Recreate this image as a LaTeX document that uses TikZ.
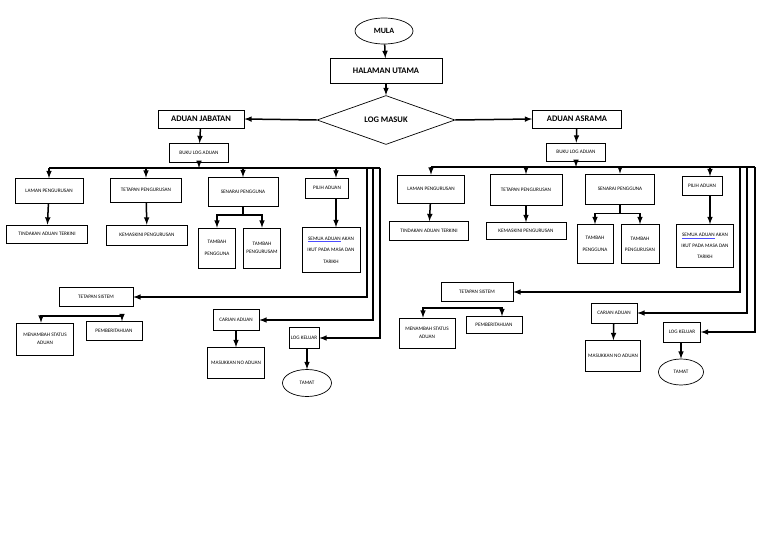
\documentclass[tikz,border=0pt]{standalone}
\usepackage{fontspec}
\setmainfont{Carlito}
\usepackage{tikz}
\usetikzlibrary{arrows}
\usetikzlibrary{shapes.geometric}

\begin{document}
\begin{tikzpicture}[x=1pt,y=-1pt,
    box/.style={draw,line width=0.7pt,inner sep=1pt,align=center,
      font=\fontsize{5.2}{8}\selectfont},
    headbox/.style={draw,line width=0.8pt,inner sep=1pt,
      font=\bfseries\fontsize{8.5}{9}\selectfont},
    oval/.style={draw,ellipse,line width=0.7pt,inner sep=0pt},
    arr/.style={-latex,line width=1.5pt},
    busline/.style={line width=1.5pt}]
  \useasboundingbox (0,0) rectangle (768,543);

  % top of the chart
  \node[oval,minimum width=58,minimum height=26,
    font=\bfseries\fontsize{8}{9}\selectfont] (mula) at (384,31) {MULA};
  \node[headbox,minimum width=112,minimum height=25] (halaman) at (386,71)
    {HALAMAN UTAMA};
  \node[draw,diamond,line width=0.7pt,inner sep=0pt,minimum width=138,
    minimum height=38,font=\bfseries\fontsize{8.5}{9}\selectfont] (login)
    at (386,120) {LOG MASUK};
  \node[headbox,minimum width=86,minimum height=18] (jabatan) at (201,119)
    {ADUAN JABATAN};
  \node[headbox,minimum width=89,minimum height=18] (asrama) at (577,119)
    {ADUAN ASRAMA};
  \node[box,minimum width=59,minimum height=19] (bukuJ) at (199,153)
    {BUKU LOG ADUAN};
  \node[box,minimum width=59,minimum height=18] (bukuA) at (576,152)
    {BUKU LOG ADUAN};

  \draw[arr] (mula) -- (halaman);
  \draw[arr] (halaman) -- (login);
  \draw[arr] (login.west) -- (jabatan.east);
  \draw[arr] (login.east) -- (asrama.west);
  \draw[arr] (jabatan) -- (bukuJ);
  \draw[arr] (asrama) -- (bukuA);

  % aduan jabatan
  \coordinate (busJ) at (199,168);
  \coordinate (endJa) at (367,168);
  \coordinate (endJb) at (373,168);
  \coordinate (endJc) at (380,168);
  \node[box,minimum width=68,minimum height=25] (lamanJ) at (49,191)
    {LAMAN PENGURUSAN};
  \node[box,minimum width=71,minimum height=24] (tetapanPJ) at (146,190)
    {TETAPAN PENGURUSAN};
  \node[box,minimum width=70,minimum height=29] (senaraiJ) at (243,192)
    {SENARAI PENGGUNA};
  \node[box,minimum width=43,minimum height=20] (pilihJ) at (327,188)
    {PILIH ADUAN};
  \node[box,minimum width=81,minimum height=18] (tindakanJ) at (47,234)
    {TINDAKAN ADUAN TERKINI};
  \node[box,minimum width=81,minimum height=20] (kemaskiniJ) at (147,235)
    {KEMASKINI PENGURUSAN};
  \node[box,minimum width=37,minimum height=40,
    font=\fontsize{5.2}{12}\selectfont] (tambahPJ) at (217,248)
    {TAMBAH\\PENGGUNA};
  \node[box,minimum width=37,minimum height=40] (tambahUJ) at (262,248)
    {TAMBAH\\PENGURUSAM};
  \node[box,minimum width=58,minimum height=45,
    font=\fontsize{5.2}{11.5}\selectfont] (semuaJ) at (331,250)
    {{\color{blue!70}\underline{\color{black}SEMUA ADUAN}} AKAN\\
      IKUT PADA MASA DAN\\TARIKH};
  \node[box,minimum width=74,minimum height=19] (tetapanSJ) at (96,297)
    {TETAPAN SISTEM};
  \node[box,minimum width=57,minimum height=32] (menambahJ) at (45,339)
    {MENAMBAH STATUS\\ADUAN};
  \node[box,minimum width=56,minimum height=19] (pemberitahuanJ)
    at (114,331) {PEMBERITAHUAN};
  \node[box,minimum width=46,minimum height=21] (carianJ) at (236,320)
    {CARIAN ADUAN};
  \node[box,minimum width=57,minimum height=31] (masukkanJ) at (236,363)
    {MASUKKAN NO ADUAN};
  \node[box,minimum width=30,minimum height=21] (keluarJ) at (304,338)
    {LOG KELUAR};
  \node[oval,minimum width=49,minimum height=27,
    font=\fontsize{5.2}{6}\selectfont] (tamatJ) at (307,383) {TAMAT};

  \draw[arr] (bukuJ) -- (busJ);
  \draw[busline] (lamanJ.north |- busJ) -- (endJc);
  \draw[arr] (lamanJ.north |- busJ) -- (lamanJ.north);
  \draw[arr] (tetapanPJ.north |- busJ) -- (tetapanPJ.north);
  \draw[arr] (senaraiJ.north |- busJ) -- (senaraiJ.north);
  \draw[arr] ([xshift=9]pilihJ.north |- busJ) -- ([xshift=9]pilihJ.north);
  \draw[arr] (lamanJ) -- (tindakanJ);
  \draw[arr] (tetapanPJ) -- (kemaskiniJ);
  \draw[busline] (senaraiJ.south) -- ++(0,8) coordinate (brJ);
  \draw[arr] (brJ) -| (tambahPJ.north);
  \draw[arr] (brJ) -| (tambahUJ.north);
  \draw[arr] ([xshift=9]pilihJ.south) -- ([xshift=9]pilihJ.south |- semuaJ.north);
  \draw[arr] (endJa) |- (tetapanSJ.east);
  \draw[arr] (endJb) |- (carianJ.east);
  \draw[arr] (endJc) |- (keluarJ.east);
  \coordinate (brTJ) at ([yshift=-9]tetapanSJ.south);
  \draw[arr] (brTJ) -| ([xshift=-4]menambahJ.north);
  \draw[arr] (brTJ) -| ([xshift=8]pemberitahuanJ.north);
  \draw[arr] (carianJ) -- (masukkanJ);
  \draw[arr] (keluarJ.south -| tamatJ.north) -- (tamatJ.north);

  % aduan asrama
  \coordinate (busA) at (576,167);
  \coordinate (endAa) at (740,167);
  \coordinate (endAb) at (747,167);
  \coordinate (endAc) at (755,167);
  \node[box,minimum width=67,minimum height=28] (lamanA) at (431,189)
    {LAMAN PENGURUSAN};
  \node[box,minimum width=72,minimum height=31] (tetapanPA) at (526,190)
    {TETAPAN PENGURUSAN};
  \node[box,minimum width=69,minimum height=30] (senaraiA) at (620,189)
    {SENARAI PENGGUNA};
  \node[box,minimum width=40,minimum height=19] (pilihA) at (702,186)
    {PILIH ADUAN};
  \node[box,minimum width=79,minimum height=19] (tindakanA) at (429,231)
    {TINDAKAN ADUAN TERKINI};
  \node[box,minimum width=80,minimum height=17] (kemaskiniA) at (526,231)
    {KEMASKINI PENGURUSAN};
  \node[box,minimum width=36,minimum height=39,
    font=\fontsize{5.2}{12}\selectfont] (tambahPA) at (595,244)
    {TAMBAH\\PENGGUNA};
  \node[box,minimum width=38,minimum height=39,
    font=\fontsize{5.2}{11}\selectfont] (tambahUA) at (640,244)
    {TAMBAH\\PENGURUSAN};
  \node[box,minimum width=57,minimum height=43,
    font=\fontsize{5.2}{11}\selectfont] (semuaA) at (705,246)
    {{\color{blue!70}\underline{\color{black}SEMUA ADUAN}} AKAN\\
      IKUT PADA MASA DAN\\TARIKH};
  \node[box,minimum width=72,minimum height=19] (tetapanSA) at (477,292)
    {TETAPAN SISTEM};
  \node[box,minimum width=56,minimum height=30] (menambahA) at (427,333)
    {MENAMBAH STATUS\\ADUAN};
  \node[box,minimum width=56,minimum height=17] (pemberitahuanA)
    at (494,325) {PEMBERITAHUAN};
  \node[box,minimum width=46,minimum height=20] (carianA) at (614,313)
    {CARIAN ADUAN};
  \node[box,minimum width=55,minimum height=31] (masukkanA) at (613,356)
    {MASUKKAN NO ADUAN};
  \node[box,minimum width=37,minimum height=20] (keluarA) at (682,332)
    {LOG KELUAR};
  \node[oval,minimum width=45,minimum height=26,
    font=\fontsize{5.2}{6}\selectfont] (tamatA) at (681,372) {TAMAT};

  \draw[arr] (bukuA) -- (busA);
  \draw[busline] (lamanA.north |- busA) -- (endAc);
  \draw[arr] (lamanA.north |- busA) -- (lamanA.north);
  \draw[arr] (tetapanPA.north |- busA) -- (tetapanPA.north);
  \draw[arr] (senaraiA.north |- busA) -- (senaraiA.north);
  \draw[arr] ([xshift=8]pilihA.north |- busA) -- ([xshift=8]pilihA.north);
  \draw[arr] (lamanA) -- (tindakanA);
  \draw[arr] (tetapanPA) -- (kemaskiniA);
  \draw[busline] (senaraiA.south) -- ++(0,9) coordinate (brA);
  \draw[arr] (brA) -| (tambahPA.north);
  \draw[arr] (brA) -| (tambahUA.north);
  \draw[arr] ([xshift=8]pilihA.south) -- ([xshift=8]pilihA.south |- semuaA.north);
  \draw[arr] (endAa) |- (tetapanSA.east);
  \draw[arr] (endAb) |- (carianA.east);
  \draw[arr] (endAc) |- (keluarA.east);
  \coordinate (brTA) at ([yshift=-6]tetapanSA.south);
  \draw[arr] (brTA) -| ([xshift=-4]menambahA.north);
  \draw[arr] (brTA) -| ([xshift=8]pemberitahuanA.north);
  \draw[arr] (carianA) -- (masukkanA);
  \draw[arr] (keluarA.south -| tamatA.north) -- (tamatA.north);
\end{tikzpicture}
\end{document}
